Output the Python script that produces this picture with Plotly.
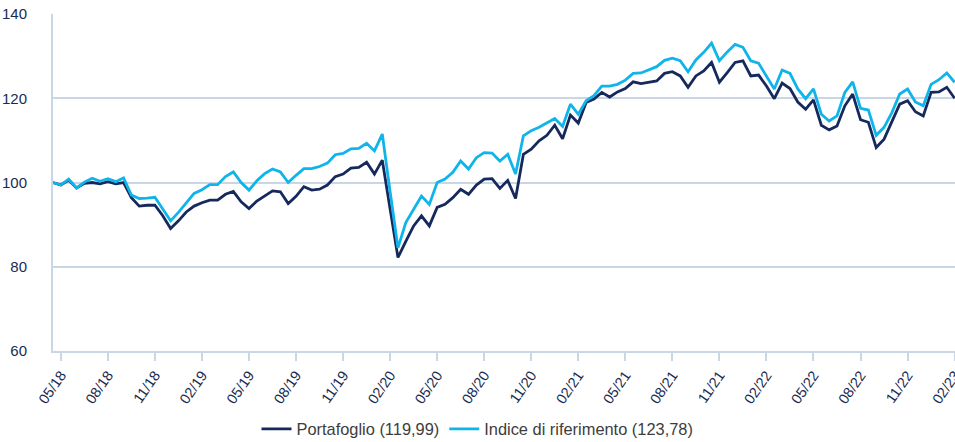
import plotly.graph_objects as go

# Semi-monthly index levels (base 100)
portafoglio = [
    100.0, 99.4, 100.6, 98.7, 99.8, 100.0, 99.7, 100.2, 99.7, 100.0,
    96.4, 94.4, 94.6, 94.6, 92.1, 89.1, 90.9, 93.0, 94.4, 95.2,
    95.8, 95.8, 97.2, 97.9, 95.4, 93.8, 95.6, 96.8, 98.0, 97.8,
    95.0, 96.7, 99.0, 98.2, 98.4, 99.4, 101.4, 102.0, 103.4, 103.6,
    104.8, 102.0, 105.3, 93.7, 82.2, 86.0, 89.7, 92.1, 89.7, 94.1,
    94.8, 96.4, 98.4, 97.2, 99.4, 100.8, 100.9, 98.6, 100.5, 96.2,
    106.7, 107.9, 109.9, 111.2, 113.6, 110.4, 116.0, 114.1, 119.0, 119.8,
    121.4, 120.3, 121.5, 122.3, 123.9, 123.5, 123.8, 124.1, 125.9, 126.3,
    125.3, 122.6, 125.3, 126.5, 128.5, 123.8, 126.1, 128.5, 128.9, 125.3,
    125.5, 122.9, 119.9, 123.6, 122.3, 119.1, 117.4, 119.6, 113.6, 112.5,
    113.4, 118.2, 121.0, 114.9, 114.3, 108.3, 110.3, 114.3, 118.6, 119.4,
    116.8, 115.8, 121.4, 121.5, 122.6, 119.99,
]

indice = [
    100.0, 99.4, 100.8, 98.7, 100.1, 101.0, 100.3, 100.9, 100.2, 101.1,
    97.0, 96.2, 96.3, 96.5, 93.7, 90.9, 92.9, 95.2, 97.4, 98.3,
    99.5, 99.5, 101.4, 102.5, 100.0, 98.2, 100.4, 102.1, 103.2, 102.5,
    100.0, 101.7, 103.3, 103.3, 103.8, 104.6, 106.6, 106.9, 108.0, 108.1,
    109.3, 107.5, 111.5, 97.8, 84.5, 90.5, 93.5, 96.8, 94.8, 100.0,
    100.8, 102.4, 105.1, 103.2, 105.9, 107.1, 107.0, 105.1, 106.7, 102.0,
    111.1, 112.3, 113.1, 114.1, 115.2, 113.3, 118.6, 116.2, 119.4, 120.6,
    122.9, 122.9, 123.3, 124.3, 125.9, 126.0, 126.7, 127.5, 129.0, 129.5,
    128.9, 126.3, 129.1, 130.9, 133.1, 128.9, 131.0, 132.8, 132.1, 128.9,
    128.3, 125.3, 122.2, 126.7, 125.9, 122.2, 119.9, 122.2, 116.2, 114.6,
    115.8, 121.4, 123.9, 117.6, 117.2, 111.2, 113.1, 116.6, 121.0, 122.2,
    119.1, 118.2, 123.3, 124.4, 126.0, 123.78,
]

# Quarterly date labels, one every six observations starting at the second one
tick_labels = [
    "05/18", "08/18", "11/18", "02/19", "05/19", "08/19", "11/19",
    "02/20", "05/20", "08/20", "11/20", "02/21", "05/21", "08/21",
    "11/21", "02/22", "05/22", "08/22", "11/22", "02/23",
]

x = list(range(len(portafoglio)))
tick_vals = list(range(1, len(portafoglio), 6))[:len(tick_labels)]

NAVY = "#16295c"
CYAN = "#0fb4ea"
GRID = "#c9d6e6"
TEXT = "#1b2b50"
FONT = "Liberation Sans, Arial, Helvetica, sans-serif"


def it_num(v):
    return f"{v:.2f}".replace(".", ",")


fig = go.Figure()
fig.add_trace(go.Scatter(
    x=x, y=portafoglio, mode="lines",
    name=f"Portafoglio ({it_num(portafoglio[-1])})",
    line=dict(color=NAVY, width=2.8),
))
fig.add_trace(go.Scatter(
    x=x, y=indice, mode="lines",
    name=f"Indice di riferimento ({it_num(indice[-1])})",
    line=dict(color=CYAN, width=2.8),
))

fig.update_layout(
    width=955, height=442,
    margin=dict(l=53, r=0, t=14, b=91, autoexpand=False),
    paper_bgcolor="white", plot_bgcolor="white",
    font=dict(family=FONT, color=TEXT, size=14),
    showlegend=True,
    legend=dict(
        orientation="h", xref="container", x=0.5, xanchor="center",
        y=-0.232, yanchor="middle",
        font=dict(size=16.4, color="#3d3d3d", family=FONT),
        itemwidth=30,
    ),
    hovermode=False,
)

fig.update_xaxes(
    range=[0, len(portafoglio) - 0.95],
    tickmode="array", tickvals=tick_vals, ticktext=tick_labels,
    tickangle=-55, tickfont=dict(size=14.5, color=TEXT),
    ticklabeloverflow="allow",
    showgrid=False, zeroline=False,
    showline=True, linecolor=GRID, linewidth=2,
    ticks="outside", ticklen=8, tickwidth=2, tickcolor=GRID,
)
fig.update_yaxes(
    range=[60, 140], dtick=20, tick0=60,
    tickfont=dict(size=15, color=TEXT),
    showgrid=True, gridcolor=GRID, gridwidth=1.5,
    zeroline=False,
    showline=True, linecolor=GRID, linewidth=2,
    ticks="", ticklabelstandoff=21,
)

fig.write_html("out.html")
